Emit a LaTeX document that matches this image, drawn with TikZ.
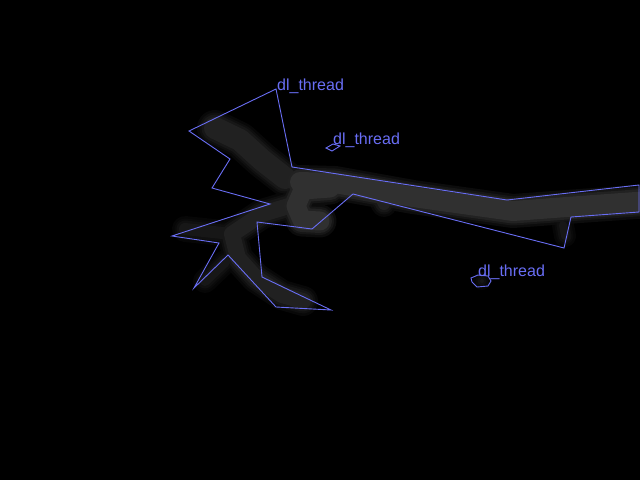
\documentclass[tikz,border=0pt]{standalone}
\usepackage{fontspec}
\setsansfont{Liberation Sans}
\definecolor{trace}{RGB}{105,110,245}

\begin{document}
\begin{tikzpicture}[x=1pt,y=-1pt,font=\sffamily\fontsize{16}{16}\selectfont,
  haze/.style={line cap=round,line join=round},
  outline/.style={draw=trace,line width=0.9pt,line join=miter},
  tag/.style={text=trace,anchor=base west,inner sep=0pt}]

\fill[black] (0,0) rectangle (640,480);
\useasboundingbox (0,0) rectangle (640,480);

% blurred thread
\begin{scope}[blend mode=lighten]
\foreach \f/\e in {0.25/14,0.45/9,0.7/5,1/0} {
  \pgfmathsetmacro\hi{19*\f}
  \pgfmathsetmacro\mid{13*\f}
  \pgfmathsetmacro\lo{9*\f}
  \draw[haze,draw=white!\mid!black,line width=22+\e] (285,178) -- (262,160) -- (240,140) -- (215,128);
  \draw[haze,draw=white!\mid!black,line width=16+\e] (292,205) -- (262,214) -- (232,234) -- (238,258) -- (256,278) -- (282,295) -- (303,301);
  \draw[haze,draw=white!\lo!black,line width=12+\e] (232,234) -- (185,229);
  \draw[haze,draw=white!\lo!black,line width=10+\e] (225,262) -- (205,281);
  \draw[haze,draw=white!\lo!black,line width=8+\e] (563,225) -- (565,236);
  \draw[haze,draw=white!\hi!black,line width=20+\e] (300,182) -- (335,183) -- (413,197) -- (513,211) -- (580,206) -- (650,201);
  \draw[haze,draw=white!\hi!black,line width=19+\e] (330,188) -- (303,190) -- (296,206) -- (302,220) -- (320,221);
  \draw[haze,draw=white!\mid!black,line width=12+\e] (378,192) -- (384,204);
  \fill[white!\lo!black] (482,281) circle ({2+\e/2});
}
\end{scope}

% outlines
\draw[outline] (276,89) -- (292,167) -- (507,200) -- (639,185) -- (639,212) -- (571,217)
  -- (564,248) -- (353,194) -- (312,229) -- (257,222) -- (262,277) -- (331,310)
  -- (276,307) -- (228,255) -- (194,288) -- (219,243) -- (172,236) -- (270,204)
  -- (212,188) -- (230,159) -- (189,131) -- cycle;
\draw[outline] (326,148) -- (333,144) -- (340,146) -- (332,151) -- cycle;
\draw[outline] (471,278) -- (478,275) -- (488,276) -- (491,281) -- (488,286) -- (477,287) -- (472,282) -- cycle;

\node[tag] (big) at (277,90) {dl\_thread};
\node[tag] (dot) at (333,144) {dl\_thread};
\node[tag] (blob) at (478,276) {dl\_thread};

\end{tikzpicture}
\end{document}
